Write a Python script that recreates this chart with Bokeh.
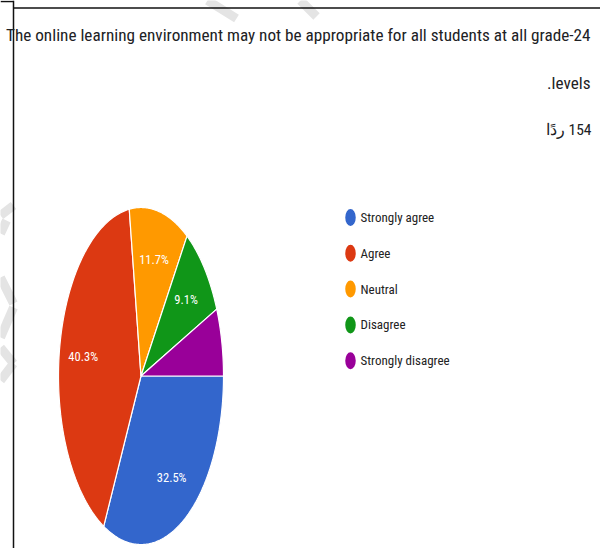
import numpy as np
from bokeh.plotting import figure
from bokeh.models import Range1d
from bokeh.core.properties import value
from bokeh.embed import file_html
from bokeh.resources import INLINE

# ---- data ----
categories = ["Strongly agree", "Agree", "Neutral", "Disagree", "Strongly disagree"]
counts = [50, 62, 18, 14, 10]
colors = ["#3366cc", "#dc3912", "#ff9900", "#109618", "#990099"]
show_label = [True, True, True, True, False]
title_line1 = "The online learning environment may not be appropriate for all students at all grade-24"
title_line2 = ".levels"
responses_text = "ردًا\u200e 154"

FONT = "Roboto Condensed"

# ---- layout (screen-like coordinates, origin top-left) ----
W, H = 600, 548
p = figure(width=W, height=H, x_range=Range1d(0, W), y_range=Range1d(H, 0),
           x_axis_type=None, y_axis_type=None, toolbar_location=None,
           output_backend="svg", min_border=0, outline_line_color=None)
p.xgrid.visible = False
p.ygrid.visible = False
p.background_fill_color = "white"

# faint watermark strokes
wm_x0 = [0, 0, 0, 13, 0, 13, 207, 300]
wm_y0 = [215, 233, 277, 307, 347, 363, 0, 0]
wm_x1 = [13, 6, 13, 0, 13, 0, 236, 316]
wm_y1 = [205, 220, 303, 337, 363, 380, 18, 16]
p.segment(x0=wm_x0, y0=wm_y0, x1=wm_x1, y1=wm_y1, line_color="#e4e4e4", line_width=9)

# frame lines
p.segment(x0=[13, 13, 0], y0=[0, 7.5, 1], x1=[13, 600, 13], y1=[548, 7.5, 1],
          line_color="#111111", line_width=1.5)

# ---- pie (elliptical) ----
cx, cy, rx, ry = 140.5, 375.5, 82.5, 168.5
vals = np.array(counts, dtype=float)
frac = vals / vals.sum()
cum = np.concatenate([[0], np.cumsum(frac)])
xs, ys = [], []
lx, ly, ltxt = [], [], []
for i in range(len(vals)):
    a0, a1 = 2 * np.pi * cum[i], 2 * np.pi * cum[i + 1]
    t = np.linspace(a0, a1, 120)
    xs.append(list(np.concatenate([[cx], cx + rx * np.cos(t)])))
    ys.append(list(np.concatenate([[cy], cy + ry * np.sin(t)])))
    if show_label[i]:
        am = (a0 + a1) / 2
        lx.append(cx + 0.71 * rx * np.cos(am))
        ly.append(cy + 0.71 * ry * np.sin(am))
        ltxt.append(f"{frac[i] * 100:.1f}%")

p.patches(xs=xs, ys=ys, fill_color=colors, line_color="white", line_width=1.2)
p.text(x=lx, y=ly, text=ltxt, text_color="white", text_font=value(FONT),
       text_font_size="12.5px", text_align="center", text_baseline="middle")

# ---- legend ----
leg_y = [217 + 35.8 * i for i in range(len(categories))]
p.ellipse(x=[350] * len(categories), y=leg_y, width=10.5, height=17, fill_color=colors, line_color=None)
p.text(x=[360] * len(categories), y=leg_y, text=categories, text_color="#222222",
       text_font=value(FONT), text_font_size="13px", text_align="left", text_baseline="middle")

# ---- titles ----
p.text(x=[590], y=[34], text=[title_line1], text_color="#202124", text_font=value(FONT),
       text_font_size="17.2px", text_align="right", text_baseline="alphabetic")
p.text(x=[590], y=[82], text=[title_line2], text_color="#202124", text_font=value(FONT),
       text_font_size="17.2px", text_align="right", text_baseline="alphabetic")
p.text(x=[591], y=[129], text=[responses_text], text_color="#202124", text_font=value(FONT),
       text_font_size="15.5px", text_align="right", text_baseline="alphabetic")

open("out.html", "w").write(file_html(p, INLINE))
